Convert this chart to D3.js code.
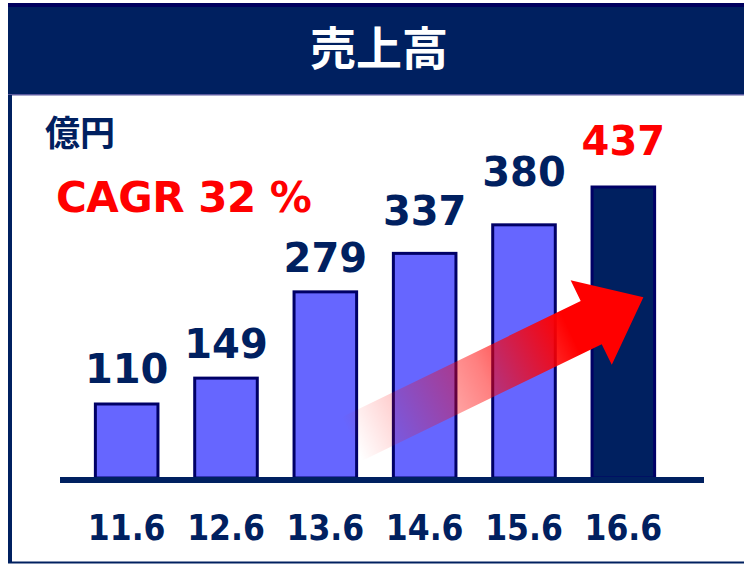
<!DOCTYPE html>
<html>
<head>
<meta charset="utf-8">
<script src="https://cdn.jsdelivr.net/npm/d3@7"></script>
<style>
  body { margin: 0; background: #fff; }
  svg { display: block; }
</style>
</head>
<body>
<div id="chart"></div>
<script>
// data
const PERIODS = ["11.6", "12.6", "13.6", "14.6", "15.6", "16.6"];
const SALES = [110, 149, 279, 337, 380, 437];
const TITLE = "売上高";
const UNIT = "億円";
const CAGR_TEXT = "CAGR 32 %";

const FRAME_WIDTH = 744;
const FRAME_HEIGHT = 565;
const NAVY = "#002060";
const BAR_EDGE = "#000066";
const BAR_FILL = "#6666ff";
const RED = "#ff0000";
const NUM_FONT = "'DejaVu Sans', Verdana, sans-serif";
const TICK_FONT = "'DejaVu Sans Condensed', 'DejaVu Sans', sans-serif";
const JP_FONT = "'Noto Sans CJK JP', 'Noto Sans CJK SC', sans-serif";

const BASE_Y = 477;   // top of the axis line
const TOP_Y = 187;    // top of the tallest bar

const SVG = d3.select("#chart")
              .append("svg")
                .attr("width", FRAME_WIDTH)
                .attr("height", FRAME_HEIGHT);

// frame: header band, left edge, bottom edge
SVG.append("rect")
    .attr("x", 8).attr("y", 3)
    .attr("width", FRAME_WIDTH - 8).attr("height", 92)
    .attr("fill", NAVY);
SVG.append("rect")
    .attr("x", 8).attr("y", 3)
    .attr("width", FRAME_WIDTH - 8).attr("height", 4)
    .attr("fill", "#00005e");
SVG.append("rect")
    .attr("x", 8).attr("y", 94)
    .attr("width", FRAME_WIDTH - 8).attr("height", 1.5)
    .attr("fill", "#5a5a9e");
SVG.append("rect")
    .attr("x", 8).attr("y", 95)
    .attr("width", 4).attr("height", FRAME_HEIGHT - 97)
    .attr("fill", NAVY);
SVG.append("rect")
    .attr("x", 8).attr("y", FRAME_HEIGHT - 3.5)
    .attr("width", FRAME_WIDTH - 8).attr("height", 2)
    .attr("fill", NAVY);

SVG.append("text")
    .attr("x", 379).attr("y", 65)
    .attr("text-anchor", "middle")
    .attr("font-family", JP_FONT)
    .attr("font-weight", "bold")
    .attr("font-size", "46px")
    .attr("fill", "#fff")
    .text(TITLE);

SVG.append("text")
    .attr("x", 45).attr("y", 146)
    .attr("font-family", JP_FONT)
    .attr("font-weight", "bold")
    .attr("font-size", "35px")
    .attr("fill", NAVY)
    .text(UNIT);

SVG.append("text")
    .attr("x", 56).attr("y", 212)
    .attr("font-family", NUM_FONT)
    .attr("font-weight", "bold")
    .attr("font-size", "42px")
    .attr("letter-spacing", "-0.5px")
    .attr("fill", RED)
    .text(CAGR_TEXT);

// scales
const X_SCALE = d3.scaleBand()
                  .domain(PERIODS)
                  .range([77, 673])
                  .paddingInner(0.37)
                  .paddingOuter(0.185);

const Y_SCALE = d3.scaleLinear()
                  .domain([0, d3.max(SALES)])
                  .range([BASE_Y, TOP_Y]);

const DATA = PERIODS.map((p, i) => { return {period: p, value: SALES[i], last: i === PERIODS.length - 1}; });

// bars
SVG.selectAll(".bar")
    .data(DATA)
    .enter()
    .append("rect")
      .attr("class", "bar")
      .attr("x", (d) => { return X_SCALE(d.period); })
      .attr("y", (d) => { return Y_SCALE(d.value); })
      .attr("width", X_SCALE.bandwidth())
      .attr("height", (d) => { return BASE_Y - Y_SCALE(d.value) + 1; })
      .attr("fill", (d) => { return d.last ? NAVY : BAR_FILL; })
      .attr("stroke", BAR_EDGE)
      .attr("stroke-width", 3);

// growth arrow, anchored to bars 13.6 -> 16.6
const ARROW_FROM = {period: "13.6", value: 57};
const ARROW_TO = {period: "16.6", value: 271};
const ax0 = X_SCALE(ARROW_FROM.period) + X_SCALE.bandwidth() - 5;
const ay0 = Y_SCALE(ARROW_FROM.value);
const ax1 = X_SCALE(ARROW_TO.period) + X_SCALE.bandwidth() * 0.82;
const ay1 = Y_SCALE(ARROW_TO.value);
const ALEN = Math.hypot(ax1 - ax0, ay1 - ay0);
const AANG = Math.atan2(ay1 - ay0, ax1 - ax0) * 180 / Math.PI;
const HEAD = 58, SHAFT_W = 24, HEAD_W = 47;

const defs = SVG.append("defs");
const grad = defs.append("linearGradient")
    .attr("id", "arrowGrad")
    .attr("gradientUnits", "userSpaceOnUse")
    .attr("x1", 0).attr("y1", 0)
    .attr("x2", ALEN).attr("y2", 0);
grad.append("stop").attr("offset", "0").attr("stop-color", RED).attr("stop-opacity", 0);
grad.append("stop").attr("offset", "0.45").attr("stop-color", RED).attr("stop-opacity", 0.5);
grad.append("stop").attr("offset", "0.75").attr("stop-color", RED).attr("stop-opacity", 1);
grad.append("stop").attr("offset", "1").attr("stop-color", RED).attr("stop-opacity", 1);

const arrowPts = [
    [0, -SHAFT_W], [ALEN - HEAD, -SHAFT_W], [ALEN - HEAD, -HEAD_W],
    [ALEN, 0],
    [ALEN - HEAD, HEAD_W], [ALEN - HEAD, SHAFT_W], [0, SHAFT_W]
];

SVG.append("g")
    .attr("transform", "translate(" + ax0 + "," + ay0 + ") rotate(" + AANG + ")")
  .append("path")
    .attr("d", d3.line()(arrowPts) + "Z")
    .attr("fill", "url(#arrowGrad)");

// value labels; extra lift per bar as in the original layout
const LABEL_LIFT = [21, 20, 20, 28, 39, 32];
SVG.selectAll(".val")
    .data(DATA)
    .enter()
    .append("text")
      .attr("class", "val")
      .attr("x", (d) => { return X_SCALE(d.period) + X_SCALE.bandwidth() / 2; })
      .attr("y", (d, i) => { return Y_SCALE(d.value) - LABEL_LIFT[i]; })
      .attr("text-anchor", "middle")
      .attr("font-family", NUM_FONT)
      .attr("font-weight", "bold")
      .attr("font-size", "40px")
      .attr("fill", (d) => { return d.last ? RED : NAVY; })
      .text((d) => { return d.value; });

// x axis: thick baseline and period labels
const X_AXIS = SVG.append("g")
    .attr("transform", "translate(0," + (BASE_Y + 3) + ")")
    .call(d3.axisBottom(X_SCALE).tickSize(0).tickPadding(35));

X_AXIS.select(".domain").remove();
X_AXIS.insert("rect", ":first-child")
    .attr("x", 60).attr("y", -3)
    .attr("width", 644).attr("height", 6)
    .attr("fill", NAVY);
X_AXIS.selectAll(".tick text")
    .attr("font-family", TICK_FONT)
    .attr("font-weight", "bold")
    .attr("font-size", "35px")
    .attr("fill", NAVY);
</script>
</body>
</html>
